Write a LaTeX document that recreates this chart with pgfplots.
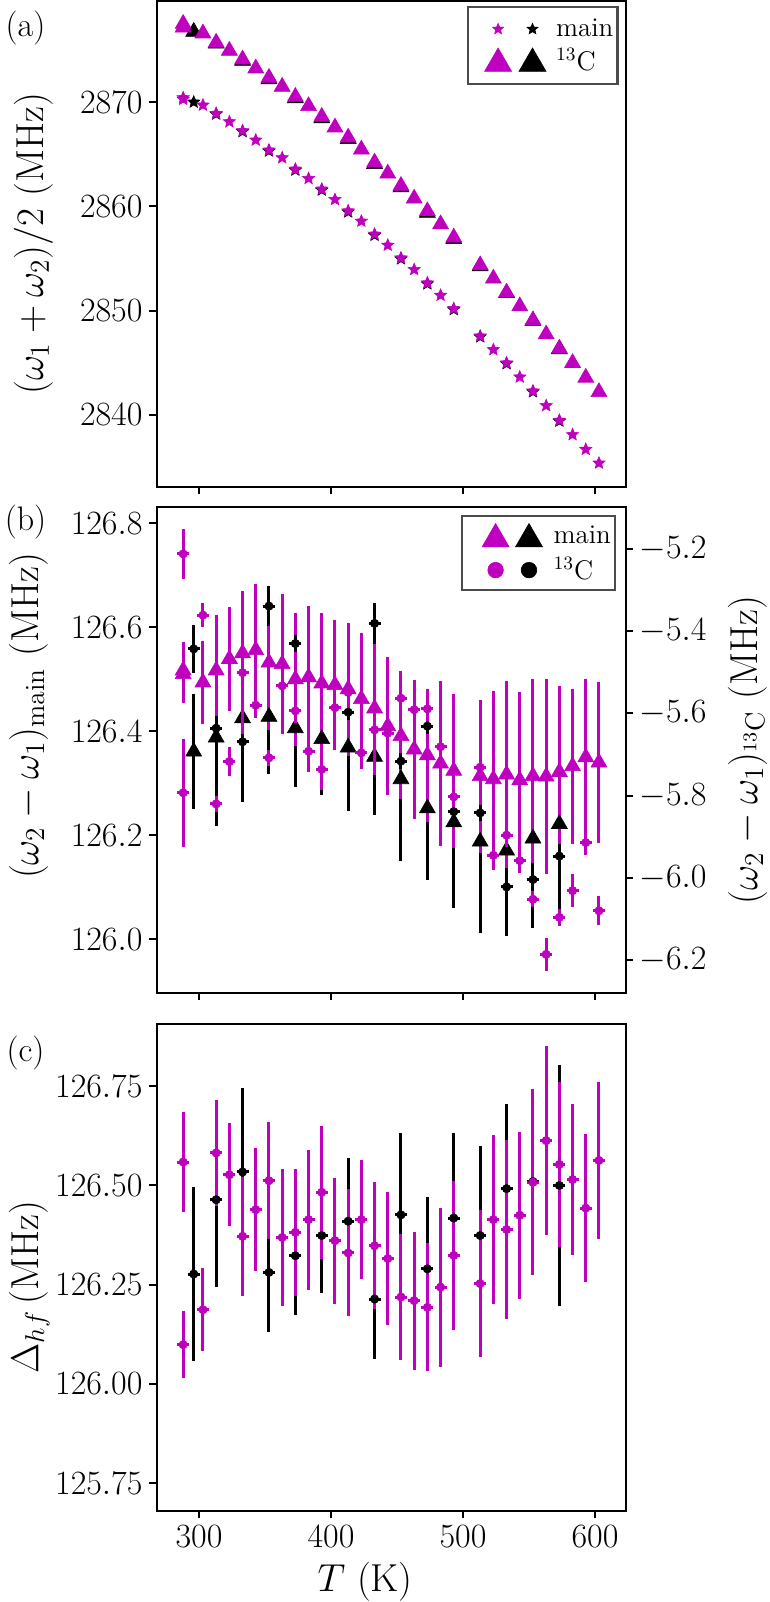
\documentclass[border=0pt]{standalone}
\usepackage{fix-cm}
\usepackage{pgfplots}
\pgfplotsset{compat=1.18}
\usepackage{pgfplotstable}
\definecolor{mag}{rgb}{0.75,0,0.75}

\pgfdeclareplotmark{fstar}{%
  \pgfpathmoveto{\pgfpointpolar{90}{\pgfplotmarksize}}%
  \pgfpathlineto{\pgfpointpolar{126}{0.45\pgfplotmarksize}}%
  \pgfpathlineto{\pgfpointpolar{162}{\pgfplotmarksize}}%
  \pgfpathlineto{\pgfpointpolar{198}{0.45\pgfplotmarksize}}%
  \pgfpathlineto{\pgfpointpolar{234}{\pgfplotmarksize}}%
  \pgfpathlineto{\pgfpointpolar{270}{0.45\pgfplotmarksize}}%
  \pgfpathlineto{\pgfpointpolar{306}{\pgfplotmarksize}}%
  \pgfpathlineto{\pgfpointpolar{342}{0.45\pgfplotmarksize}}%
  \pgfpathlineto{\pgfpointpolar{18}{\pgfplotmarksize}}%
  \pgfpathlineto{\pgfpointpolar{54}{0.45\pgfplotmarksize}}%
  \pgfpathclose
  \pgfusepathqfillstroke
}

% ---------- panel (a) ----------
\pgfplotstableread{
T v
288 2877.55
288 2877.20
303 2876.63
313 2875.74
323 2874.97
333 2874.13
343 2873.27
353 2872.37
363 2871.51
373 2870.54
383 2869.65
393 2868.62
403 2867.60
413 2866.63
423 2865.48
433 2864.23
443 2863.17
453 2861.99
463 2860.77
473 2859.55
483 2858.30
493 2857.02
513 2854.36
523 2853.08
533 2851.73
543 2850.42
553 2849.07
563 2847.72
573 2846.35
583 2844.97
593 2843.56
603 2842.18
}\aTriM
\pgfplotstableread{
T v
296 2876.79
313 2875.65
333 2874.00
353 2872.22
373 2870.39
393 2868.47
413 2866.48
433 2864.08
453 2861.84
473 2859.40
493 2856.87
513 2854.26
533 2851.68
553 2849.02
573 2846.30
}\aTriK
\pgfplotstableread{
T v
288 2870.45
288 2870.30
303 2869.74
313 2868.94
323 2868.14
333 2867.28
343 2866.38
353 2865.42
363 2864.68
373 2863.59
383 2862.69
393 2861.67
403 2860.67
413 2859.58
423 2858.59
433 2857.34
443 2856.28
453 2855.06
463 2853.94
473 2852.66
483 2851.47
493 2850.19
513 2847.56
523 2846.25
533 2844.97
543 2843.62
553 2842.28
563 2840.87
573 2839.46
583 2838.08
593 2836.67
603 2835.35
}\aStarM
\pgfplotstableread{
T v
296 2870.03
313 2868.88
333 2867.20
353 2865.33
373 2863.50
393 2861.58
413 2859.48
433 2857.24
453 2854.97
473 2852.57
493 2850.10
513 2847.48
533 2844.90
553 2842.20
573 2839.38
}\aStarK

% ---------- panel (b) ----------
\pgfplotstableread{
T v e
288 126.517 0.055
288 126.510 0.055
303 126.494 0.080
313 126.517 0.107
323 126.539 0.100
333 126.550 0.120
343 126.556 0.127
353 126.532 0.130
363 126.529 0.135
373 126.500 0.128
383 126.504 0.137
393 126.492 0.135
403 126.489 0.125
413 126.481 0.128
423 126.462 0.127
433 126.444 0.128
443 126.410 0.132
453 126.391 0.122
463 126.365 0.133
473 126.354 0.128
483 126.338 0.159
493 126.324 0.148
513 126.314 0.147
523 126.308 0.170
533 126.317 0.180
543 126.306 0.170
553 126.314 0.186
563 126.313 0.187
573 126.322 0.165
583 126.333 0.149
593 126.350 0.151
603 126.340 0.155
}\bTriM
\pgfplotstableread{
T v e
296 126.361 0.111
313 126.388 0.170
333 126.425 0.160
353 126.428 0.110
373 126.406 0.113
393 126.385 0.107
413 126.369 0.122
433 126.351 0.111
453 126.308 0.157
473 126.252 0.138
493 126.225 0.164
513 126.188 0.175
533 126.171 0.164
553 126.194 0.173
573 126.222 0.170
}\bTriK
\pgfplotstableread{
T v e
288 -5.212 0.060
288 -5.793 0.132
303 -5.361 0.030
313 -5.820 0.020
323 -5.717 0.036
333 -5.501 0.150
343 -5.580 0.030
353 -5.708 0.020
363 -5.533 0.030
373 -5.594 0.030
383 -5.692 0.050
393 -5.736 0.050
403 -5.586 0.100
413 -5.549 0.050
423 -5.696 0.040
433 -5.640 0.100
443 -5.648 0.030
453 -5.563 0.065
463 -5.591 0.030
473 -5.589 0.030
483 -5.681 0.030
493 -5.803 0.030
513 -5.731 0.030
523 -5.945 0.035
533 -5.896 0.030
543 -5.958 0.030
553 -6.052 0.020
563 -6.186 0.040
573 -6.096 0.020
583 -6.031 0.040
593 -5.914 0.030
603 -6.080 0.035
}\bCircM
\pgfplotstableread{
T v e
296 -5.443 0.059
313 -5.636 0.030
333 -5.669 0.030
353 -5.339 0.049
373 -5.430 0.020
413 -5.597 0.020
433 -5.381 0.050
453 -5.716 0.020
473 -5.631 0.020
493 -5.839 0.020
513 -5.842 0.020
533 -6.022 0.030
553 -6.004 0.040
573 -5.947 0.030
}\bCircK

% ---------- panel (c) ----------
\pgfplotstableread{
T v e
288 126.559 0.126
288 126.099 0.085
303 126.187 0.105
313 126.582 0.133
323 126.527 0.130
333 126.372 0.150
343 126.439 0.155
353 126.512 0.148
363 126.369 0.172
373 126.382 0.160
383 126.414 0.176
393 126.483 0.167
403 126.361 0.159
413 126.330 0.160
423 126.414 0.150
433 126.348 0.160
443 126.316 0.168
453 126.219 0.158
463 126.210 0.174
473 126.193 0.161
483 126.244 0.200
493 126.324 0.188
513 126.253 0.186
523 126.414 0.213
533 126.389 0.225
543 126.425 0.210
553 126.508 0.234
563 126.613 0.238
573 126.553 0.207
583 126.515 0.190
593 126.443 0.187
603 126.563 0.198
}\cM
\pgfplotstableread{
T v e
296 126.277 0.218
313 126.464 0.220
333 126.534 0.212
353 126.281 0.149
373 126.323 0.150
393 126.374 0.145
413 126.410 0.160
433 126.214 0.151
453 126.426 0.206
473 126.290 0.180
493 126.418 0.215
513 126.374 0.225
533 126.492 0.213
553 126.510 0.200
573 126.500 0.304
}\cK

\pgfplotsset{
  panel/.style={
    scale only axis, width=234.5pt,
    xmin=267.8, xmax=623.1, xtick={300,400,500,600},
    tick align=outside, major tick length=3.5pt,
    axis line style={line width=1pt},
    every tick/.style={black, line width=1pt},
    tick label style={font=\fontsize{17}{20}\selectfont},
    label style={font=\fontsize{19.5}{23}\selectfont, inner sep=0pt},
    legend cell align=left,
  },
  ebM/.style={/pgfplots/error bars/y dir=both, /pgfplots/error bars/y explicit,
    /pgfplots/error bars/error mark=none,
    /pgfplots/error bars/error bar style={line width=1.5pt, draw=mag, solid}},
  ebK/.style={/pgfplots/error bars/y dir=both, /pgfplots/error bars/y explicit,
    /pgfplots/error bars/error mark=none,
    /pgfplots/error bars/error bar style={line width=1.5pt, draw=black, solid}},
  exM/.style={/pgfplots/error bars/x dir=both, /pgfplots/error bars/x fixed=4.5},
}

\begin{document}
\begin{tikzpicture}
\path[use as bounding box] (0,0) rectangle (385pt,-801pt);

% ================= (a) =================
\begin{axis}[panel, tick pos=left, at={(78.25pt,-243.25pt)}, anchor=south west, height=242.75pt,
  ymin=2833.1, ymax=2879.74, ytick={2840,2850,2860,2870}, xticklabels={},
  /pgf/number format/1000 sep={},
  ylabel={$(\omega_1+\omega_2)/2$ (MHz)},
  ylabel style={at={(axis description cs:-0.305,0.5)}, anchor=north},
  legend style={at={(1,1)}, anchor=north east, xshift=-3.5pt, yshift=-2.5pt,
    draw=black!70, line width=1.1pt, inner xsep=0pt, inner ysep=3.5pt,
    font=\fontsize{13.5}{16}\selectfont},
]
\addlegendimage{legend image code/.code={
  \path[draw=none,fill=none] (0pt,-7.5pt) rectangle (42pt,7.5pt);
  \draw[mag, fill=mag, line width=0.3pt, mark size=2.9pt] plot[only marks, mark=fstar] coordinates {(15pt,0pt)};
  \draw[black, fill=black, line width=0.3pt, mark size=2.9pt] plot[only marks, mark=fstar] coordinates {(32.2pt,0pt)};
}}
\addlegendentry{main}
\addlegendimage{legend image code/.code={
  \path[draw=none,fill=none] (0pt,-7.5pt) rectangle (42pt,7.5pt);
  \draw[mag, fill=mag, line width=0.3pt, mark size=7.8pt] plot[only marks, mark=triangle*] coordinates {(15pt,-1.5pt)};
  \draw[black, fill=black, line width=0.3pt, mark size=7.8pt] plot[only marks, mark=triangle*] coordinates {(32.2pt,-1.5pt)};
}}
\addlegendentry{$^{13}$C}
\addplot[forget plot, only marks, mark=triangle*, mark size=4.6pt, draw=black, fill=black, line width=0.3pt] table[x=T,y=v] {\aTriK};
\addplot[forget plot, only marks, mark=fstar, mark size=3.2pt, draw=black, fill=black, line width=0.3pt] table[x=T,y=v] {\aStarK};
\addplot[forget plot, only marks, mark=triangle*, mark size=4.6pt, draw=mag, fill=mag, line width=0.3pt] table[x=T,y=v] {\aTriM};
\addplot[forget plot, only marks, mark=fstar, mark size=3.2pt, draw=mag, fill=mag, line width=0.3pt] table[x=T,y=v] {\aStarM};
\end{axis}
\node[font=\fontsize{17}{20}\selectfont] at (12.75pt,-14pt) {(a)};

% ================= (b) =================
\begin{axis}[panel, tick pos=left, at={(78.25pt,-496.5pt)}, anchor=south west, height=243pt,
  ymin=125.897, ymax=126.831, ytick={126.0,126.2,126.4,126.6,126.8}, xticklabels={},
  yticklabel style={/pgf/number format/fixed, /pgf/number format/fixed zerofill, /pgf/number format/precision=1},
  ylabel={$(\omega_2-\omega_1)_{\mathrm{main}}$ (MHz)},
  ylabel style={at={(axis description cs:-0.315,0.57)}, anchor=north},
]
\addplot[forget plot, only marks, mark=triangle*, mark size=4.6pt, draw=black, fill=black, line width=0.3pt, ebK] table[x=T,y=v,y error=e] {\bTriK};
\addplot[forget plot, only marks, mark=triangle*, mark size=4.6pt, draw=mag, fill=mag, line width=0.3pt, ebM] table[x=T,y=v,y error=e] {\bTriM};
\end{axis}
\begin{axis}[panel, at={(78.25pt,-496.5pt)}, anchor=south west, height=243pt,
  axis x line=none, axis y line*=right, ytick pos=right, yticklabel pos=right,
  ymin=-6.280, ymax=-5.098, ytick={-6.2,-6.0,-5.8,-5.6,-5.4,-5.2},
  yticklabel style={/pgf/number format/fixed, /pgf/number format/fixed zerofill, /pgf/number format/precision=1},
  ylabel={$(\omega_2-\omega_1)_{^{13}\mathrm{C}}$ (MHz)},
  ylabel style={at={(axis description cs:1.218,0.5)}, anchor=north},
  legend style={at={(1,1)}, anchor=north east, xshift=-4.75pt, yshift=-4pt,
    draw=black!70, line width=1.1pt, inner xsep=0pt, inner ysep=1.5pt,
    font=\fontsize{13.5}{16}\selectfont},
]
\addlegendimage{legend image code/.code={
  \path[draw=none,fill=none] (0pt,-8.5pt) rectangle (44pt,8.5pt);
  \draw[mag, fill=mag, line width=0.3pt, mark size=7.8pt] plot[only marks, mark=triangle*] coordinates {(17pt,-1.5pt)};
  \draw[black, fill=black, line width=0.3pt, mark size=7.8pt] plot[only marks, mark=triangle*] coordinates {(33.7pt,-1.5pt)};
}}
\addlegendentry{main}
\addlegendimage{legend image code/.code={
  \path[draw=none,fill=none] (0pt,-8.5pt) rectangle (44pt,8.5pt);
  \draw[mag, fill=mag, line width=0.3pt, mark size=3.9pt] plot[only marks, mark=*] coordinates {(17pt,0pt)};
  \draw[black, fill=black, line width=0.3pt, mark size=3.9pt] plot[only marks, mark=*] coordinates {(33.7pt,0pt)};
}}
\addlegendentry{$^{13}$C}
\addplot[forget plot, only marks, mark=*, mark size=2.1pt, draw=black, fill=black, line width=0.3pt, ebK, exM] table[x=T,y=v,y error=e] {\bCircK};
\addplot[forget plot, only marks, mark=*, mark size=2.1pt, draw=mag, fill=mag, line width=0.3pt, ebM, exM] table[x=T,y=v,y error=e] {\bCircM};
\end{axis}
\node[font=\fontsize{17}{20}\selectfont] at (12.75pt,-261pt) {(b)};

% ================= (c) =================
\begin{axis}[panel, tick pos=left, at={(78.25pt,-755.5pt)}, anchor=south west, height=243.75pt,
  ymin=125.680, ymax=126.908, ytick={125.75,126,126.25,126.5,126.75},
  yticklabel style={/pgf/number format/fixed, /pgf/number format/fixed zerofill, /pgf/number format/precision=2},
  ylabel={$\Delta_{hf}\,$(MHz)},
  ylabel style={at={(axis description cs:-0.315,0.46)}, anchor=north},
  xlabel={$T$ (K)},
  xlabel style={at={(axis description cs:0.445,-0.104)}, anchor=north},
]
\addplot[forget plot, only marks, mark=*, mark size=2.1pt, draw=black, fill=black, line width=0.3pt, ebK, exM] table[x=T,y=v,y error=e] {\cK};
\addplot[forget plot, only marks, mark=*, mark size=2.1pt, draw=mag, fill=mag, line width=0.3pt, ebM, exM] table[x=T,y=v,y error=e] {\cM};
\end{axis}
\node[font=\fontsize{17}{20}\selectfont] at (12.75pt,-526.5pt) {(c)};
\end{tikzpicture}
\end{document}
